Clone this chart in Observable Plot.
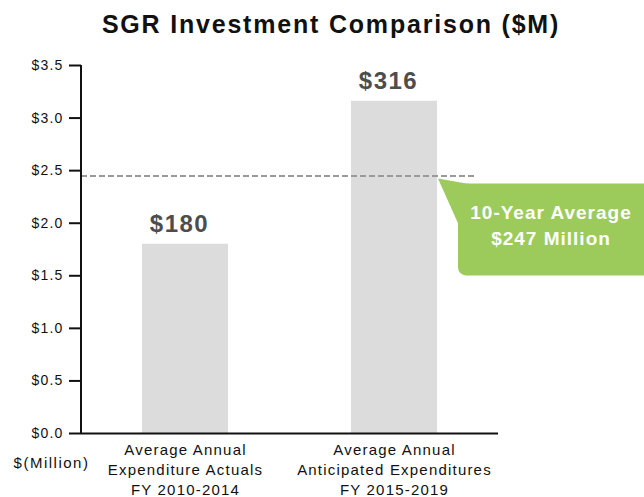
<!DOCTYPE html>
<html><head><meta charset="utf-8">
<script src="https://cdn.jsdelivr.net/npm/d3@7"></script>
<script src="https://cdn.jsdelivr.net/npm/@observablehq/plot@0.6"></script>
<style>
body{margin:0;background:#fff;font-family:"Liberation Sans",Arial,sans-serif;}
#wrap{position:relative;width:644px;height:497px;overflow:hidden;}
#title{height:45px;line-height:48px;text-align:center;padding-left:18px;font-size:25px;font-weight:bold;letter-spacing:1.8px;color:#111;white-space:nowrap;}
</style></head><body>
<div id="wrap"><div id="title">SGR Investment Comparison ($M)</div><div id="chart"></div></div>
<script>
const categories = ["Average Annual\nExpenditure Actuals\nFY 2010-2014", "Average Annual\nAnticipated Expenditures\nFY 2015-2019"];
const values = [1.80, 3.16];
const valueLabels = ["$180", "$316"];
const average = 2.45;
const averageLines = ["10-Year Average", "$247 Million"];
const yTicks = [0, 0.5, 1, 1.5, 2, 2.5, 3, 3.5];
const unitLabel = "$(Million)";

const data = categories.map((c, i) => ({cat: c, value: values[i], label: valueLabels[i]}));
const font = "Liberation Sans, Arial, sans-serif";

const plot = Plot.plot({
  width: 644,
  height: 452,
  marginTop: 20,
  marginBottom: 64,
  marginLeft: 81,
  marginRight: 146,
  style: {fontFamily: font, fontSize: "14px", background: "white", color: "#111", overflow: "visible"},
  x: {domain: categories, paddingInner: 0.59, paddingOuter: 0.29, label: null},
  y: {domain: [0, 3.5], label: null},
  marks: [
    Plot.barY(data, {x: "cat", y: "value", fill: "#dcdcdd"}),
    Plot.ruleY([average], {stroke: "#9a9a9a", strokeWidth: 2, strokeDasharray: "6,3", insetRight: 23}),
    Plot.ruleY([0], {stroke: "#111", strokeWidth: 2}),
    Plot.axisY({ticks: yTicks, tickFormat: d => "$" + d.toFixed(1), tickSize: 12, tickPadding: 6, fontSize: 14, stroke: "#111", strokeWidth: 2, fill: "#111", label: null}),
    Plot.axisX({tickSize: 0, tickPadding: 7, fontSize: 15, lineHeight: 1.33, fill: "#111", label: null}),
    Plot.text(data, {x: "cat", y: "value", text: "label", dy: -20, dx: -6, fontSize: 24, fontWeight: "bold", fill: "#4d4d4d", lineAnchor: "middle"}),
    Plot.text([unitLabel], {frameAnchor: "bottom-left", text: d => d, dx: -30, dy: 30, fontSize: 15, fill: "#111", textAnchor: "middle", lineAnchor: "middle"})
  ]
});
document.getElementById("chart").appendChild(plot);

// letter spacing for a closer look
d3.select(plot).selectAll("g[aria-label='y-axis tick label'] text").attr("letter-spacing", "1.2");
d3.select(plot).selectAll("g[aria-label='x-axis tick label'] text").attr("letter-spacing", "1.2");
d3.select(plot).selectAll("g[aria-label='text'] text").attr("letter-spacing", "1.5");

const xs = plot.scale("x"), ys = plot.scale("y");
const svg = d3.select(plot);
const x0 = xs.range[0];
// y axis line
svg.append("line").attr("x1", x0).attr("x2", x0).attr("y1", ys.apply(3.5)).attr("y2", ys.apply(0) + 1).attr("stroke", "#111").attr("stroke-width", 2);

// callout
const yAvg = ys.apply(average);
const tipX = xs.apply(categories[1]) + xs.bandwidth + 1;
const bodyL = tipX + 20, bodyT = yAvg + 8, bodyB = yAvg + 100, bodyR = 660;
const g = svg.append("g");
g.append("rect").attr("x", bodyL).attr("y", bodyT).attr("width", bodyR - bodyL).attr("height", bodyB - bodyT).attr("rx", 8).attr("fill", "#9ccb5b");
g.append("path").attr("d", `M${tipX},${yAvg + 3}L${bodyL + 14},${bodyT + 1}L${bodyL + 1},${bodyT + 42}Z`).attr("fill", "#9ccb5b");
const cx = (bodyL + 644) / 2;
averageLines.forEach((t, i) => {
  g.append("text").attr("x", cx).attr("y", yAvg + 37 + i * 26).attr("dy", "0.35em").attr("text-anchor", "middle")
    .attr("font-size", 19).attr("font-weight", "bold").attr("fill", "#fff").attr("letter-spacing", "1").attr("font-family", font).text(t);
});
</script>
</body></html>
